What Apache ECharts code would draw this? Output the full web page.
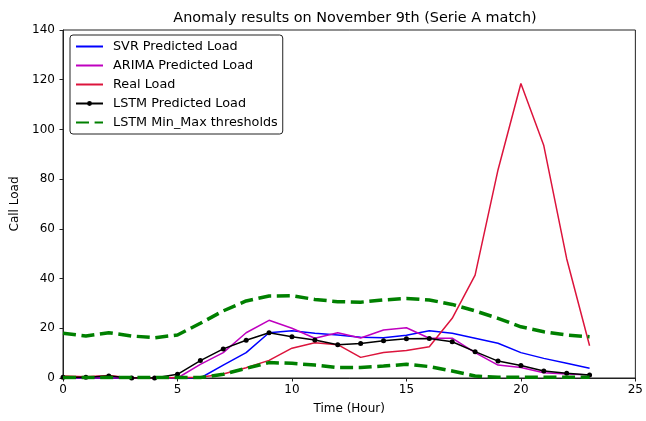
<!DOCTYPE html>
<html>
<head>
<meta charset="utf-8">
<script src="https://cdn.jsdelivr.net/npm/echarts@6/dist/echarts.min.js"></script>
<style>html,body{margin:0;padding:0;background:#fff}#c{width:646px;height:421px}</style>
</head>
<body>
<div id="c"></div>
<script>
const hours = [0,1,2,3,4,5,6,7,8,9,10,11,12,13,14,15,16,17,18,19,20,21,22,23];
const svrLoad   = [0,0,0,0,0,0,0,5.2,10.2,18.2,19,18,17.3,16.4,16.2,17.2,19,18,16,14,10.2,7.9,5.9,3.9];
const arimaLoad = [0,0,0,0,0,0,5.5,10.2,18.2,23.2,20,16,18.2,16.1,19.3,20.2,16,16,10.2,5.2,4.2,2.1,1.6,1.2];
const realLoad  = [0.8,0.5,1,0,0,0.2,0.3,1.6,4.1,7.1,12,14.2,13.4,8.3,10.3,11.1,12.6,24,41.4,83.7,118.5,93.5,48,13];
const lstmLoad  = [0.3,0.3,0.8,0,0,1.5,7,11.7,15.2,18.2,16.6,15.3,13.4,13.9,15,15.8,15.9,14.6,10.6,6.8,5,2.8,1.9,1.2];
const upperThr  = [18,16.9,18.2,16.9,16.2,17.3,22,27,31,33,33.1,31.6,30.7,30.5,31.4,32,31.4,29.6,27,24,20.6,18.6,17.3,16.6];
const lowerThr  = [0.2,0.2,0.2,0.2,0.2,0.2,0.2,1.5,3.9,6.2,5.9,5.2,4.2,4.2,4.8,5.5,4.6,2.8,0.8,0.3,0.3,0.3,0.3,0.3];
const xTicks = [0,5,10,15,20,25];
const yTicks = [0,20,40,60,80,100,120,140];

const pair = arr => hours.map((h,i)=>[h,arr[i]]);
const font = 'DejaVu Sans';
const thrName = 'LSTM Min_Max thresholds';
const noSym = {opacity: 0};

const chart = echarts.init(document.getElementById('c'), null, {renderer:'canvas'});
chart.setOption({
  animation: false,
  backgroundColor: '#fff',
  title: {
    text: 'Anomaly results on November 9th (Serie A match)',
    left: 350, top: 6, textAlign: 'center',
    textStyle: {fontFamily: font, fontSize: 14.4, fontWeight: 'normal', color: '#000'}
  },
  grid: {left: 63, right: 9, top: 30, bottom: 43, show: true, borderColor: '#222', borderWidth: 1, backgroundColor: 'transparent'},
  legend: {
    orient: 'vertical', left: 70, top: 35,
    data: [
      {name: 'SVR Predicted Load', itemStyle: noSym},
      {name: 'ARIMA Predicted Load', itemStyle: noSym},
      {name: 'Real Load', itemStyle: noSym},
      {name: 'LSTM Predicted Load'},
      {name: thrName, itemStyle: noSym}
    ],
    itemWidth: 27, itemHeight: 6, itemGap: 6,
    padding: [5, 5, 5, 5],
    backgroundColor: '#fff', borderColor: '#222', borderWidth: 1, borderRadius: 3,
    textStyle: {fontFamily: font, fontSize: 12.8, color: '#000', lineHeight: 13, padding: [0, 0, 0, 5]},
  },
  xAxis: {
    type: 'value', min: 0, max: 25, interval: 5,
    name: 'Time (Hour)', nameLocation: 'middle', nameGap: 25,
    nameTextStyle: {fontFamily: font, fontSize: 12, color: '#000'},
    axisLine: {show: true, onZero: false, lineStyle: {color: '#222', width: 1}},
    axisTick: {show: true, inside: false, length: 3.5, lineStyle: {color: '#222'}},
    axisLabel: {fontFamily: font, fontSize: 12, color: '#000', margin: 6,
      formatter: v => xTicks.includes(v) ? String(v) : ''},
    splitLine: {show: false}
  },
  yAxis: {
    type: 'value', min: 0, max: 140, interval: 20,
    name: 'Call Load', nameLocation: 'middle', nameGap: 33,
    nameTextStyle: {fontFamily: font, fontSize: 12, color: '#000'},
    axisLine: {show: true, onZero: false, lineStyle: {color: '#222', width: 1}},
    axisTick: {show: true, inside: false, length: 3.5, lineStyle: {color: '#222'}},
    axisLabel: {fontFamily: font, fontSize: 12, color: '#000', margin: 8,
      formatter: v => yTicks.includes(v) ? String(v) : ''},
    splitLine: {show: false}
  },
  series: [
    {name: 'SVR Predicted Load', type: 'line', data: pair(svrLoad), symbol: 'none',
     lineStyle: {color: '#0000ff', width: 1.5}, itemStyle: {color: '#0000ff'}, z: 2},
    {name: 'ARIMA Predicted Load', type: 'line', data: pair(arimaLoad), symbol: 'none',
     lineStyle: {color: '#bf00bf', width: 1.5}, itemStyle: {color: '#bf00bf'}, z: 3},
    {name: 'Real Load', type: 'line', data: pair(realLoad), symbol: 'none',
     lineStyle: {color: '#dc143c', width: 1.5}, itemStyle: {color: '#dc143c'}, z: 4},
    {name: 'LSTM Predicted Load', type: 'line', data: pair(lstmLoad), symbol: 'circle', symbolSize: 5,
     showSymbol: true, lineStyle: {color: '#000', width: 1.5}, itemStyle: {color: '#000'}, z: 5},
    {name: thrName, type: 'line', data: pair(upperThr), symbol: 'none',
     lineStyle: {color: '#008000', width: 3.5, type: [13, 5.6]}, itemStyle: {color: '#008000'}, z: 6},
    {name: thrName, type: 'line', data: pair(lowerThr), symbol: 'none',
     lineStyle: {color: '#008000', width: 3.5, type: [13, 5.6]}, itemStyle: {color: '#008000'}, z: 6}
  ]
});
</script>
</body>
</html>
